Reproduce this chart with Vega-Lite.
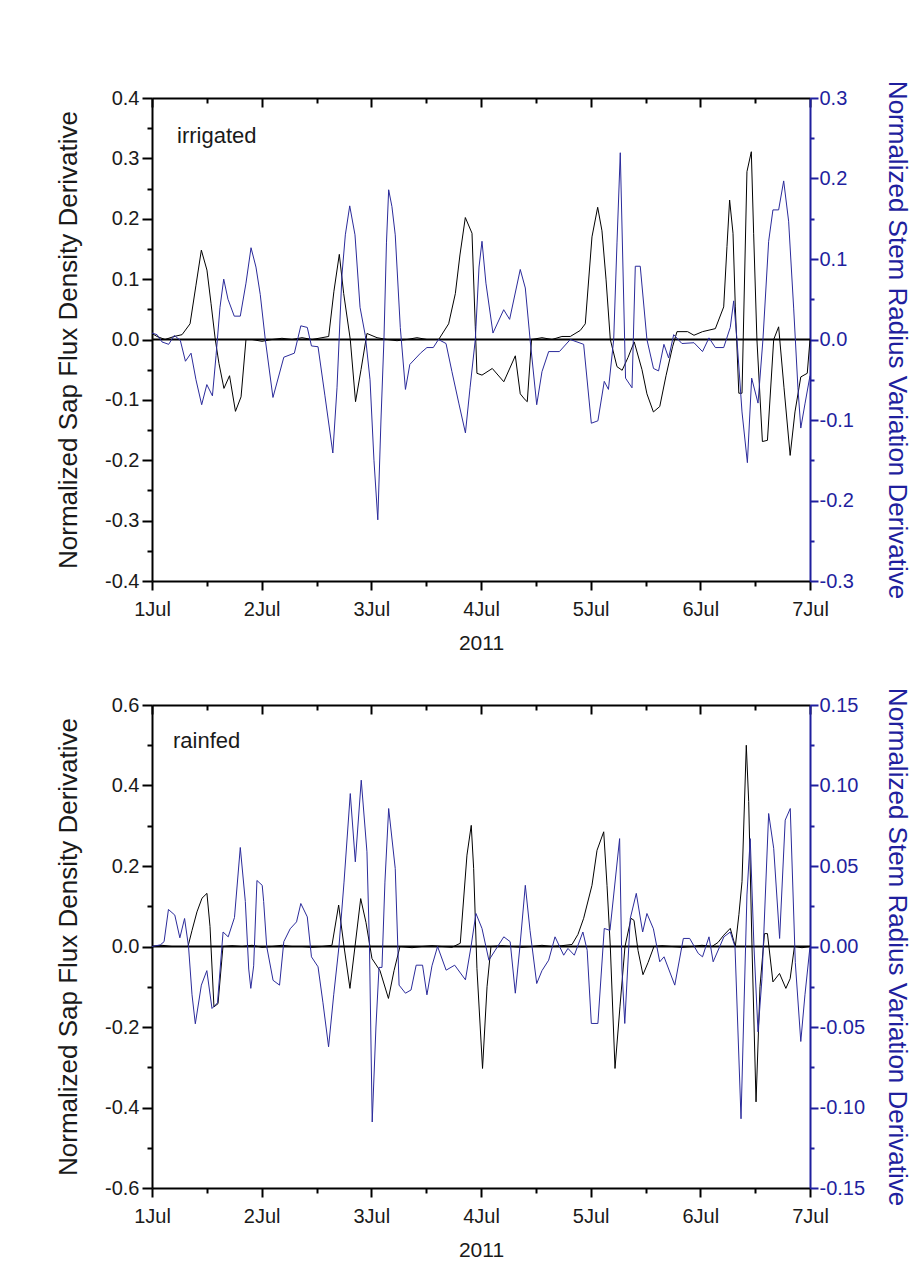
{
  "$schema": "https://vega.github.io/schema/vega-lite/v6.json",
  "background": "white",
  "padding": {"left": 54, "top": 80, "right": 5, "bottom": 5},
  "config": {
    "view": {"stroke": null},
    "font": "Liberation Sans",
    "axis": {"grid": false, "labelFont": "Liberation Sans", "titleFont": "Liberation Sans", "titleFontWeight": "normal", "domainWidth": 2, "tickWidth": 2, "labelOverlap": false, "labelBound": false, "labelFlush": false}
  },
  "datasets": {
    "irrBlack": [
      {"d":1.000,"v":0.01},{"d":1.046,"v":0.005},{"d":1.119,"v":0.0},{"d":1.201,"v":0.005},{"d":1.274,"v":0.008},{"d":1.347,"v":0.026},{"d":1.401,"v":0.09},{"d":1.450,"v":0.148},{"d":1.501,"v":0.115},{"d":1.538,"v":0.06},{"d":1.577,"v":0.0},{"d":1.611,"v":-0.04},{"d":1.656,"v":-0.081},{"d":1.707,"v":-0.06},{"d":1.761,"v":-0.119},{"d":1.812,"v":-0.095},{"d":1.857,"v":0.0},{"d":1.912,"v":0.0},{"d":2.003,"v":-0.003},{"d":2.094,"v":0.0},{"d":2.185,"v":0.002},{"d":2.277,"v":0.0},{"d":2.368,"v":0.003},{"d":2.459,"v":0.0},{"d":2.550,"v":0.003},{"d":2.611,"v":0.005},{"d":2.659,"v":0.08},{"d":2.708,"v":0.141},{"d":2.748,"v":0.076},{"d":2.808,"v":0.0},{"d":2.856,"v":-0.103},{"d":2.906,"v":-0.05},{"d":2.960,"v":0.01},{"d":3.052,"v":0.003},{"d":3.143,"v":0.0},{"d":3.234,"v":-0.002},{"d":3.325,"v":0.0},{"d":3.416,"v":0.003},{"d":3.507,"v":0.0},{"d":3.614,"v":0.0},{"d":3.705,"v":0.026},{"d":3.766,"v":0.076},{"d":3.808,"v":0.14},{"d":3.857,"v":0.202},{"d":3.918,"v":0.176},{"d":3.948,"v":0.021},{"d":3.963,"v":-0.056},{"d":4.009,"v":-0.059},{"d":4.103,"v":-0.048},{"d":4.208,"v":-0.07},{"d":4.313,"v":-0.027},{"d":4.358,"v":-0.09},{"d":4.403,"v":-0.1},{"d":4.422,"v":-0.103},{"d":4.461,"v":0.0},{"d":4.556,"v":0.003},{"d":4.647,"v":0.0},{"d":4.738,"v":0.005},{"d":4.814,"v":0.005},{"d":4.905,"v":0.015},{"d":4.951,"v":0.026},{"d":5.012,"v":0.17},{"d":5.064,"v":0.219},{"d":5.103,"v":0.18},{"d":5.140,"v":0.1},{"d":5.179,"v":0.0},{"d":5.240,"v":-0.045},{"d":5.287,"v":-0.051},{"d":5.340,"v":-0.03},{"d":5.397,"v":-0.004},{"d":5.468,"v":-0.05},{"d":5.513,"v":-0.09},{"d":5.572,"v":-0.12},{"d":5.630,"v":-0.111},{"d":5.687,"v":-0.06},{"d":5.747,"v":-0.012},{"d":5.787,"v":0.013},{"d":5.884,"v":0.013},{"d":5.942,"v":0.007},{"d":6.020,"v":0.013},{"d":6.137,"v":0.018},{"d":6.213,"v":0.054},{"d":6.243,"v":0.154},{"d":6.267,"v":0.231},{"d":6.298,"v":0.176},{"d":6.319,"v":0.054},{"d":6.351,"v":-0.089},{"d":6.380,"v":-0.089},{"d":6.425,"v":0.278},{"d":6.465,"v":0.311},{"d":6.486,"v":0.176},{"d":6.516,"v":0.0},{"d":6.566,"v":-0.169},{"d":6.612,"v":-0.167},{"d":6.669,"v":0.0},{"d":6.714,"v":0.021},{"d":6.763,"v":-0.08},{"d":6.819,"v":-0.192},{"d":6.863,"v":-0.12},{"d":6.916,"v":-0.062},{"d":6.975,"v":-0.056},{"d":7.000,"v":0.0}
    ],
    "irrBlue": [
      {"d":1.000,"v":0.008},{"d":1.046,"v":0.006},{"d":1.091,"v":-0.003},{"d":1.152,"v":-0.006},{"d":1.203,"v":0.005},{"d":1.258,"v":-0.001},{"d":1.305,"v":-0.027},{"d":1.356,"v":-0.017},{"d":1.401,"v":-0.05},{"d":1.453,"v":-0.081},{"d":1.500,"v":-0.056},{"d":1.551,"v":-0.07},{"d":1.584,"v":-0.02},{"d":1.620,"v":0.04},{"d":1.654,"v":0.075},{"d":1.693,"v":0.05},{"d":1.750,"v":0.029},{"d":1.805,"v":0.029},{"d":1.857,"v":0.07},{"d":1.903,"v":0.114},{"d":1.948,"v":0.09},{"d":1.987,"v":0.056},{"d":2.033,"v":0.0},{"d":2.103,"v":-0.072},{"d":2.202,"v":-0.022},{"d":2.298,"v":-0.017},{"d":2.357,"v":0.017},{"d":2.416,"v":0.015},{"d":2.454,"v":-0.008},{"d":2.514,"v":-0.009},{"d":2.577,"v":-0.07},{"d":2.649,"v":-0.141},{"d":2.687,"v":-0.06},{"d":2.732,"v":0.08},{"d":2.763,"v":0.13},{"d":2.803,"v":0.166},{"d":2.851,"v":0.13},{"d":2.897,"v":0.04},{"d":2.945,"v":0.005},{"d":2.988,"v":-0.05},{"d":3.024,"v":-0.15},{"d":3.059,"v":-0.224},{"d":3.088,"v":-0.1},{"d":3.115,"v":0.0},{"d":3.138,"v":0.12},{"d":3.158,"v":0.186},{"d":3.188,"v":0.165},{"d":3.218,"v":0.13},{"d":3.264,"v":0.015},{"d":3.311,"v":-0.062},{"d":3.351,"v":-0.031},{"d":3.448,"v":-0.017},{"d":3.507,"v":-0.01},{"d":3.565,"v":-0.01},{"d":3.612,"v":0.0},{"d":3.681,"v":-0.005},{"d":3.735,"v":-0.04},{"d":3.799,"v":-0.08},{"d":3.858,"v":-0.116},{"d":3.900,"v":-0.06},{"d":3.948,"v":0.0},{"d":3.982,"v":0.09},{"d":4.009,"v":0.122},{"d":4.045,"v":0.07},{"d":4.109,"v":0.008},{"d":4.207,"v":0.037},{"d":4.261,"v":0.025},{"d":4.358,"v":0.087},{"d":4.404,"v":0.064},{"d":4.449,"v":-0.002},{"d":4.508,"v":-0.081},{"d":4.556,"v":-0.04},{"d":4.617,"v":-0.015},{"d":4.715,"v":-0.015},{"d":4.814,"v":0.0},{"d":4.875,"v":-0.003},{"d":4.936,"v":-0.006},{"d":5.006,"v":-0.104},{"d":5.066,"v":-0.101},{"d":5.124,"v":-0.052},{"d":5.162,"v":-0.062},{"d":5.210,"v":0.0},{"d":5.240,"v":0.12},{"d":5.270,"v":0.232},{"d":5.318,"v":-0.048},{"d":5.377,"v":-0.06},{"d":5.407,"v":0.091},{"d":5.452,"v":0.091},{"d":5.513,"v":0.0},{"d":5.573,"v":-0.036},{"d":5.619,"v":-0.039},{"d":5.668,"v":-0.006},{"d":5.711,"v":-0.023},{"d":5.757,"v":0.006},{"d":5.832,"v":-0.005},{"d":5.942,"v":-0.004},{"d":6.020,"v":-0.015},{"d":6.079,"v":0.002},{"d":6.137,"v":-0.01},{"d":6.213,"v":-0.01},{"d":6.273,"v":0.015},{"d":6.304,"v":0.048},{"d":6.334,"v":0.0},{"d":6.380,"v":-0.09},{"d":6.429,"v":-0.153},{"d":6.468,"v":-0.048},{"d":6.526,"v":-0.079},{"d":6.571,"v":0.0},{"d":6.623,"v":0.122},{"d":6.662,"v":0.161},{"d":6.714,"v":0.161},{"d":6.760,"v":0.197},{"d":6.805,"v":0.147},{"d":6.851,"v":0.039},{"d":6.890,"v":-0.06},{"d":6.916,"v":-0.11},{"d":6.954,"v":-0.08},{"d":7.000,"v":-0.045}
    ],
    "rainBlack": [
      {"d":1.000,"v":0.0},{"d":1.091,"v":0.003},{"d":1.182,"v":0.0},{"d":1.274,"v":0.0},{"d":1.328,"v":0.0},{"d":1.365,"v":0.04},{"d":1.410,"v":0.086},{"d":1.456,"v":0.12},{"d":1.501,"v":0.132},{"d":1.529,"v":0.05},{"d":1.565,"v":-0.15},{"d":1.602,"v":-0.142},{"d":1.647,"v":0.0},{"d":1.729,"v":0.002},{"d":1.821,"v":0.0},{"d":1.912,"v":0.003},{"d":2.003,"v":-0.002},{"d":2.094,"v":0.0},{"d":2.185,"v":0.003},{"d":2.277,"v":0.0},{"d":2.368,"v":0.0},{"d":2.459,"v":-0.002},{"d":2.550,"v":0.0},{"d":2.641,"v":0.003},{"d":2.702,"v":0.103},{"d":2.751,"v":0.0},{"d":2.805,"v":-0.104},{"d":2.851,"v":0.0},{"d":2.903,"v":0.119},{"d":2.951,"v":0.06},{"d":3.006,"v":-0.03},{"d":3.079,"v":-0.06},{"d":3.156,"v":-0.129},{"d":3.207,"v":-0.06},{"d":3.261,"v":0.0},{"d":3.371,"v":-0.003},{"d":3.462,"v":0.0},{"d":3.553,"v":0.002},{"d":3.644,"v":0.0},{"d":3.735,"v":-0.002},{"d":3.811,"v":0.008},{"d":3.872,"v":0.227},{"d":3.911,"v":0.301},{"d":3.933,"v":0.194},{"d":3.963,"v":-0.055},{"d":4.014,"v":-0.303},{"d":4.055,"v":-0.1},{"d":4.091,"v":0.0},{"d":4.191,"v":0.002},{"d":4.282,"v":0.0},{"d":4.374,"v":-0.002},{"d":4.465,"v":0.0},{"d":4.556,"v":0.003},{"d":4.647,"v":0.0},{"d":4.738,"v":0.002},{"d":4.830,"v":0.005},{"d":4.884,"v":0.03},{"d":4.936,"v":0.07},{"d":5.012,"v":0.152},{"d":5.058,"v":0.239},{"d":5.119,"v":0.285},{"d":5.149,"v":0.152},{"d":5.179,"v":0.0},{"d":5.222,"v":-0.303},{"d":5.267,"v":-0.15},{"d":5.313,"v":0.0},{"d":5.368,"v":0.07},{"d":5.395,"v":0.065},{"d":5.432,"v":-0.01},{"d":5.477,"v":-0.07},{"d":5.523,"v":-0.04},{"d":5.577,"v":0.0},{"d":5.650,"v":0.002},{"d":5.741,"v":0.0},{"d":5.832,"v":-0.002},{"d":5.924,"v":0.0},{"d":6.015,"v":0.003},{"d":6.106,"v":0.0},{"d":6.161,"v":0.01},{"d":6.213,"v":0.028},{"d":6.273,"v":0.045},{"d":6.319,"v":0.0},{"d":6.352,"v":0.08},{"d":6.380,"v":0.161},{"d":6.419,"v":0.5},{"d":6.441,"v":0.36},{"d":6.471,"v":0.0},{"d":6.508,"v":-0.386},{"d":6.544,"v":-0.1},{"d":6.585,"v":0.032},{"d":6.612,"v":0.032},{"d":6.662,"v":-0.088},{"d":6.722,"v":-0.067},{"d":6.780,"v":-0.104},{"d":6.819,"v":-0.08},{"d":6.858,"v":0.0},{"d":6.927,"v":-0.003},{"d":7.000,"v":0.0}
    ],
    "rainBlue": [
      {"d":1.000,"v":0.0},{"d":1.076,"v":0.001},{"d":1.110,"v":0.003},{"d":1.150,"v":0.023},{"d":1.208,"v":0.0195},{"d":1.254,"v":0.0054},{"d":1.297,"v":0.0174},{"d":1.333,"v":0.0},{"d":1.365,"v":-0.03},{"d":1.395,"v":-0.048},{"d":1.450,"v":-0.024},{"d":1.500,"v":-0.015},{"d":1.547,"v":-0.0385},{"d":1.597,"v":-0.035},{"d":1.648,"v":0.009},{"d":1.695,"v":0.006},{"d":1.752,"v":0.018},{"d":1.805,"v":0.0615},{"d":1.851,"v":0.028},{"d":1.882,"v":-0.014},{"d":1.901,"v":-0.026},{"d":1.927,"v":-0.012},{"d":1.957,"v":0.041},{"d":2.005,"v":0.038},{"d":2.018,"v":0.028},{"d":2.046,"v":0.0},{"d":2.104,"v":-0.021},{"d":2.163,"v":-0.024},{"d":2.202,"v":0.003},{"d":2.260,"v":0.011},{"d":2.318,"v":0.0153},{"d":2.357,"v":0.0267},{"d":2.416,"v":0.0184},{"d":2.454,"v":-0.0064},{"d":2.514,"v":-0.0126},{"d":2.559,"v":-0.035},{"d":2.610,"v":-0.0623},{"d":2.657,"v":-0.03},{"d":2.705,"v":0.0},{"d":2.751,"v":0.04},{"d":2.808,"v":0.095},{"d":2.854,"v":0.0526},{"d":2.908,"v":0.1033},{"d":2.960,"v":0.0588},{"d":2.983,"v":0.0},{"d":3.008,"v":-0.109},{"d":3.042,"v":-0.05},{"d":3.070,"v":-0.013},{"d":3.097,"v":-0.013},{"d":3.124,"v":0.04},{"d":3.158,"v":0.0857},{"d":3.218,"v":0.0484},{"d":3.253,"v":-0.024},{"d":3.311,"v":-0.029},{"d":3.362,"v":-0.027},{"d":3.409,"v":-0.0116},{"d":3.467,"v":-0.0116},{"d":3.507,"v":-0.03},{"d":3.553,"v":-0.012},{"d":3.604,"v":0.0},{"d":3.682,"v":-0.0147},{"d":3.760,"v":-0.0116},{"d":3.858,"v":-0.0207},{"d":3.909,"v":0.0},{"d":3.954,"v":0.0205},{"d":4.009,"v":0.0112},{"d":4.072,"v":-0.0085},{"d":4.130,"v":-0.0023},{"d":4.208,"v":0.006},{"d":4.266,"v":0.003},{"d":4.313,"v":-0.029},{"d":4.355,"v":0.0},{"d":4.404,"v":0.038},{"d":4.447,"v":0.01},{"d":4.508,"v":-0.023},{"d":4.556,"v":-0.015},{"d":4.617,"v":-0.0085},{"d":4.675,"v":0.006},{"d":4.754,"v":-0.0054},{"d":4.793,"v":-0.0012},{"d":4.851,"v":-0.0054},{"d":4.929,"v":0.009},{"d":4.968,"v":-0.0023},{"d":5.006,"v":-0.0478},{"d":5.066,"v":-0.0478},{"d":5.124,"v":0.0112},{"d":5.176,"v":0.01},{"d":5.264,"v":0.067},{"d":5.285,"v":-0.014},{"d":5.311,"v":-0.0478},{"d":5.361,"v":0.0174},{"d":5.416,"v":0.033},{"d":5.474,"v":0.009},{"d":5.513,"v":0.0205},{"d":5.572,"v":0.011},{"d":5.630,"v":-0.0095},{"d":5.669,"v":-0.0064},{"d":5.767,"v":-0.024},{"d":5.845,"v":0.005},{"d":5.903,"v":0.005},{"d":5.981,"v":-0.0043},{"d":6.020,"v":-0.0064},{"d":6.079,"v":0.006},{"d":6.117,"v":-0.0095},{"d":6.215,"v":0.006},{"d":6.273,"v":0.009},{"d":6.316,"v":0.0},{"d":6.371,"v":-0.107},{"d":6.425,"v":0.032},{"d":6.455,"v":0.067},{"d":6.489,"v":0.0},{"d":6.526,"v":-0.053},{"d":6.562,"v":-0.02},{"d":6.623,"v":0.0826},{"d":6.669,"v":0.061},{"d":6.723,"v":0.005},{"d":6.774,"v":0.0785},{"d":6.820,"v":0.0857},{"d":6.866,"v":-0.01},{"d":6.916,"v":-0.059},{"d":6.954,"v":-0.03},{"d":7.000,"v":0.0}
    ]
  },
  "spacing": 124,
  "bounds": "flush",
  "vconcat": [
    {
      "width": 658, "height": 483,
      "resolve": {"scale": {"y": "independent"}, "axis": {"x": "independent"}},
      "layer": [
        {
          "data": {"name": "irrBlack"},
          "mark": {"type": "line", "color": "#000000", "strokeWidth": 1},
          "encoding": {
            "x": {"field": "d", "type": "quantitative", "scale": {"domain": [1, 7], "nice": false, "zero": false},
              "axis": {"orient": "bottom", "values": [1,1.5,2,2.5,3,3.5,4,4.5,5,5.5,6,6.5,7], "labelExpr": "datum.value % 1 == 0 ? datum.value + 'Jul' : ''", "tickSize": {"condition": {"test": "datum.value % 1 != 0", "value": 5}, "value": 9}, "tickColor": "#000000", "domainColor": "#000000", "labelFontSize": 20, "labelColor": "#1a1a1a", "labelPadding": 9, "title": "2011", "titleFontSize": 21, "titleColor": "#1a1a1a", "titleY": 68, "titleBaseline": "alphabetic"}},
            "y": {"field": "v", "type": "quantitative", "scale": {"domain": [-0.4, 0.4], "nice": false, "zero": false},
              "axis": {"orient": "left", "values": [-0.4,-0.35,-0.3,-0.25,-0.2,-0.15,-0.1,-0.05,0,0.05,0.1,0.15,0.2,0.25,0.3,0.35,0.4], "labelExpr": "abs(datum.value*10 - round(datum.value*10)) < 0.01 ? replace(format(datum.value, '.1f'), '−', '-') : ''", "tickSize": {"condition": {"test": "abs(datum.value*10 - round(datum.value*10)) > 0.01", "value": 5}, "value": 10}, "tickColor": "#000000", "domainColor": "#000000", "labelFontSize": 20, "labelColor": "#1a1a1a", "labelPadding": 3, "title": "Normalized Sap Flux Density Derivative", "titleFontSize": 26, "titleColor": "#1a1a1a", "titleX": -76, "titleAngle": 270, "titleBaseline": "alphabetic"}}
          }
        },
        {
          "data": {"values": [{"z": 0}]},
          "mark": {"type": "rule", "color": "#000000", "strokeWidth": 2},
          "encoding": {"y": {"field": "z", "type": "quantitative", "scale": {"domain": [-0.4, 0.4], "nice": false, "zero": false}, "axis": null}}
        },
        {
          "data": {"values": [{"label": "irrigated"}]},
          "mark": {"type": "text", "align": "left", "baseline": "alphabetic", "fontSize": 22, "font": "Liberation Sans", "color": "#1a1a1a"},
          "encoding": {
            "x": {"datum": 1.228, "type": "quantitative", "axis": {"orient": "bottom", "offset": -483, "values": [1,1.5,2,2.5,3,3.5,4,4.5,5,5.5,6,6.5,7], "labels": false, "tickSize": {"condition": {"test": "datum.value % 1 != 0", "value": 5}, "value": 9}, "tickColor": "#000000", "domainColor": "#000000", "title": null}},
            "y": {"datum": 0.325, "type": "quantitative", "scale": {"domain": [-0.4, 0.4], "nice": false, "zero": false}, "axis": null},
            "text": {"field": "label"}
          }
        },
        {
          "data": {"name": "irrBlue"},
          "mark": {"type": "line", "color": "#2b2b9b", "strokeWidth": 1},
          "encoding": {
            "x": {"field": "d", "type": "quantitative", "axis": null},
            "y": {"field": "v", "type": "quantitative", "scale": {"domain": [-0.3, 0.3], "nice": false, "zero": false},
              "axis": {"orient": "right", "values": [-0.3,-0.25,-0.2,-0.15,-0.1,-0.05,0,0.05,0.1,0.15,0.2,0.25,0.3], "labelExpr": "abs(datum.value*10 - round(datum.value*10)) < 0.01 ? replace(format(datum.value, '.1f'), '−', '-') : ''", "tickSize": {"condition": {"test": "abs(datum.value*10 - round(datum.value*10)) > 0.01", "value": 4}, "value": 8}, "tickColor": "#1f1f9e", "domainColor": "#1f1f9e", "labelFontSize": 20, "labelColor": "#1f1f9e", "labelPadding": 1, "title": "Normalized Stem Radius Variation Derivative", "titleFontSize": 26, "titleColor": "#1f1f9e", "titleX": 78, "titleAngle": 90, "titleBaseline": "alphabetic"}}
          }
        }
      ]
    },
    {
      "width": 658, "height": 483,
      "resolve": {"scale": {"y": "independent"}, "axis": {"x": "independent"}},
      "layer": [
        {
          "data": {"name": "rainBlack"},
          "mark": {"type": "line", "color": "#000000", "strokeWidth": 1},
          "encoding": {
            "x": {"field": "d", "type": "quantitative", "scale": {"domain": [1, 7], "nice": false, "zero": false},
              "axis": {"orient": "bottom", "values": [1,1.5,2,2.5,3,3.5,4,4.5,5,5.5,6,6.5,7], "labelExpr": "datum.value % 1 == 0 ? datum.value + 'Jul' : ''", "tickSize": {"condition": {"test": "datum.value % 1 != 0", "value": 5}, "value": 9}, "tickColor": "#000000", "domainColor": "#000000", "labelFontSize": 20, "labelColor": "#1a1a1a", "labelPadding": 9, "title": "2011", "titleFontSize": 21, "titleColor": "#1a1a1a", "titleY": 68, "titleBaseline": "alphabetic"}},
            "y": {"field": "v", "type": "quantitative", "scale": {"domain": [-0.6, 0.6], "nice": false, "zero": false},
              "axis": {"orient": "left", "values": [-0.6,-0.5,-0.4,-0.3,-0.2,-0.1,0,0.1,0.2,0.3,0.4,0.5,0.6], "labelExpr": "abs(datum.value*5 - round(datum.value*5)) < 0.01 ? replace(format(datum.value, '.1f'), '−', '-') : ''", "tickSize": {"condition": {"test": "abs(datum.value*5 - round(datum.value*5)) > 0.01", "value": 5}, "value": 10}, "tickColor": "#000000", "domainColor": "#000000", "labelFontSize": 20, "labelColor": "#1a1a1a", "labelPadding": 3, "title": "Normalized Sap Flux Density Derivative", "titleFontSize": 26, "titleColor": "#1a1a1a", "titleX": -76, "titleAngle": 270, "titleBaseline": "alphabetic"}}
          }
        },
        {
          "data": {"values": [{"z": 0}]},
          "mark": {"type": "rule", "color": "#000000", "strokeWidth": 2},
          "encoding": {"y": {"field": "z", "type": "quantitative", "scale": {"domain": [-0.6, 0.6], "nice": false, "zero": false}, "axis": null}}
        },
        {
          "data": {"values": [{"label": "rainfed"}]},
          "mark": {"type": "text", "align": "left", "baseline": "alphabetic", "fontSize": 22, "font": "Liberation Sans", "color": "#1a1a1a"},
          "encoding": {
            "x": {"datum": 1.191, "type": "quantitative", "axis": {"orient": "bottom", "offset": -483, "values": [1,1.5,2,2.5,3,3.5,4,4.5,5,5.5,6,6.5,7], "labels": false, "tickSize": {"condition": {"test": "datum.value % 1 != 0", "value": 5}, "value": 9}, "tickColor": "#000000", "domainColor": "#000000", "title": null}},
            "y": {"datum": 0.492, "type": "quantitative", "scale": {"domain": [-0.6, 0.6], "nice": false, "zero": false}, "axis": null},
            "text": {"field": "label"}
          }
        },
        {
          "data": {"name": "rainBlue"},
          "mark": {"type": "line", "color": "#2b2b9b", "strokeWidth": 1},
          "encoding": {
            "x": {"field": "d", "type": "quantitative", "axis": null},
            "y": {"field": "v", "type": "quantitative", "scale": {"domain": [-0.15, 0.15], "nice": false, "zero": false},
              "axis": {"orient": "right", "values": [-0.15,-0.125,-0.1,-0.075,-0.05,-0.025,0,0.025,0.05,0.075,0.1,0.125,0.15], "labelExpr": "abs(datum.value*20 - round(datum.value*20)) < 0.01 ? replace(format(datum.value, '.2f'), '−', '-') : ''", "tickSize": {"condition": {"test": "abs(datum.value*20 - round(datum.value*20)) > 0.01", "value": 4}, "value": 8}, "tickColor": "#1f1f9e", "domainColor": "#1f1f9e", "labelFontSize": 20, "labelColor": "#1f1f9e", "labelPadding": 1, "title": "Normalized Stem Radius Variation Derivative", "titleFontSize": 26, "titleColor": "#1f1f9e", "titleX": 78, "titleAngle": 90, "titleBaseline": "alphabetic"}}
          }
        }
      ]
    }
  ]
}
